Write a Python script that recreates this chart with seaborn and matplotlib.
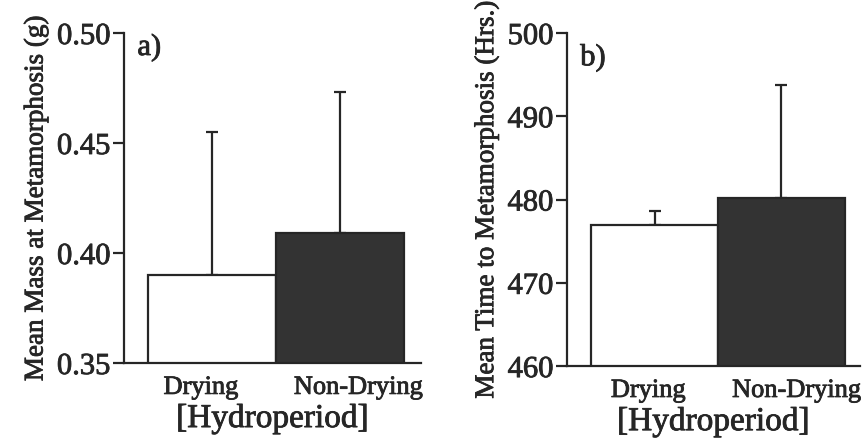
import matplotlib
matplotlib.use("Agg")
import matplotlib.pyplot as plt
import matplotlib.patheffects as pe
import seaborn as sns
import pandas as pd

# Hydroperiod treatments and the two response variables (mean and upper SE)
categories = ["Drying", "Non-Drying"]
mass_mean = [0.390, 0.409]
mass_err = [0.065, 0.064]
time_mean = [476.9, 480.2]
time_err = [1.7, 13.5]

mass_ticks = [0.35, 0.40, 0.45, 0.50]
mass_tick_labels = ["0.35", "0.40", "0.45", "0.50"]
time_ticks = [460, 470, 480, 490, 500]
time_tick_labels = ["460", "470", "480", "490", "500"]

sns.set_theme(style="ticks")
plt.rcParams["font.family"] = ["Liberation Serif", "DejaVu Serif"]

ink = "#262626"
bar_colors = {"Drying": "#ffffff", "Non-Drying": "#333333"}
heavy = [pe.withStroke(linewidth=0.6, foreground=ink)]

fig = plt.figure(figsize=(8.65, 4.4), dpi=100)
ax_a = fig.add_axes([0.1434, 0.175, 0.3434, 0.75])
ax_b = fig.add_axes([0.6555, 0.168, 0.3387, 0.757])


def draw_panel(ax, means, errs, ylim, ticks, tick_labels, ylabel, tag,
               tag_xy, xlim, label_pos):
    df = pd.DataFrame({"Hydroperiod": categories, "value": means})
    sns.barplot(data=df, x="Hydroperiod", y="value", hue="Hydroperiod",
                palette=bar_colors, width=1.0, edgecolor=ink, linewidth=1.6,
                legend=False, ax=ax, zorder=2)
    ax.errorbar(range(len(categories)), means, yerr=[[0] * len(errs), errs],
                fmt="none", ecolor=ink, elinewidth=1.6, capsize=4.5,
                capthick=1.6, zorder=1)
    ax.set_ylim(*ylim)
    ax.set_xlim(*xlim)
    ax.set_yticks(ticks)
    ax.set_yticklabels(tick_labels)
    ax.set_xticks(label_pos)
    ax.set_xticklabels(categories)
    ax.tick_params(axis="y", length=8, width=1.6, color=ink, pad=2,
                   labelsize=22, labelcolor=ink)
    ax.tick_params(axis="x", length=0, pad=10, labelsize=19, labelcolor=ink)
    ax.set_ylabel(ylabel, fontsize=19.5, color=ink, labelpad=6)
    ax.set_xlabel("[Hydroperiod]", fontsize=24, color=ink, labelpad=3)
    for side in ("top", "right"):
        ax.spines[side].set_visible(False)
    for side in ("left", "bottom"):
        ax.spines[side].set_linewidth(1.6)
        ax.spines[side].set_color(ink)
    ax.text(tag_xy[0], tag_xy[1], tag, transform=ax.transAxes, fontsize=22,
            color=ink, va="top", ha="left", path_effects=heavy)
    for t in (ax.get_xticklabels() + ax.get_yticklabels()
              + [ax.xaxis.label, ax.yaxis.label]):
        t.set_path_effects(heavy)


draw_panel(ax_a, mass_mean, mass_err, (0.35, 0.50), mass_ticks,
           mass_tick_labels, "Mean Mass at Metamorphosis (g)", "a)",
           (0.045, 1.0), (-0.69, 1.63), [-0.09, 1.14])
draw_panel(ax_b, time_mean, time_err, (460, 500), time_ticks,
           time_tick_labels, "Mean Time to Metamorphosis (Hrs.)", "b)",
           (0.045, 0.97), (-0.69, 1.62), [-0.05, 1.12])

fig.savefig("out.png", dpi=100, facecolor="white")
